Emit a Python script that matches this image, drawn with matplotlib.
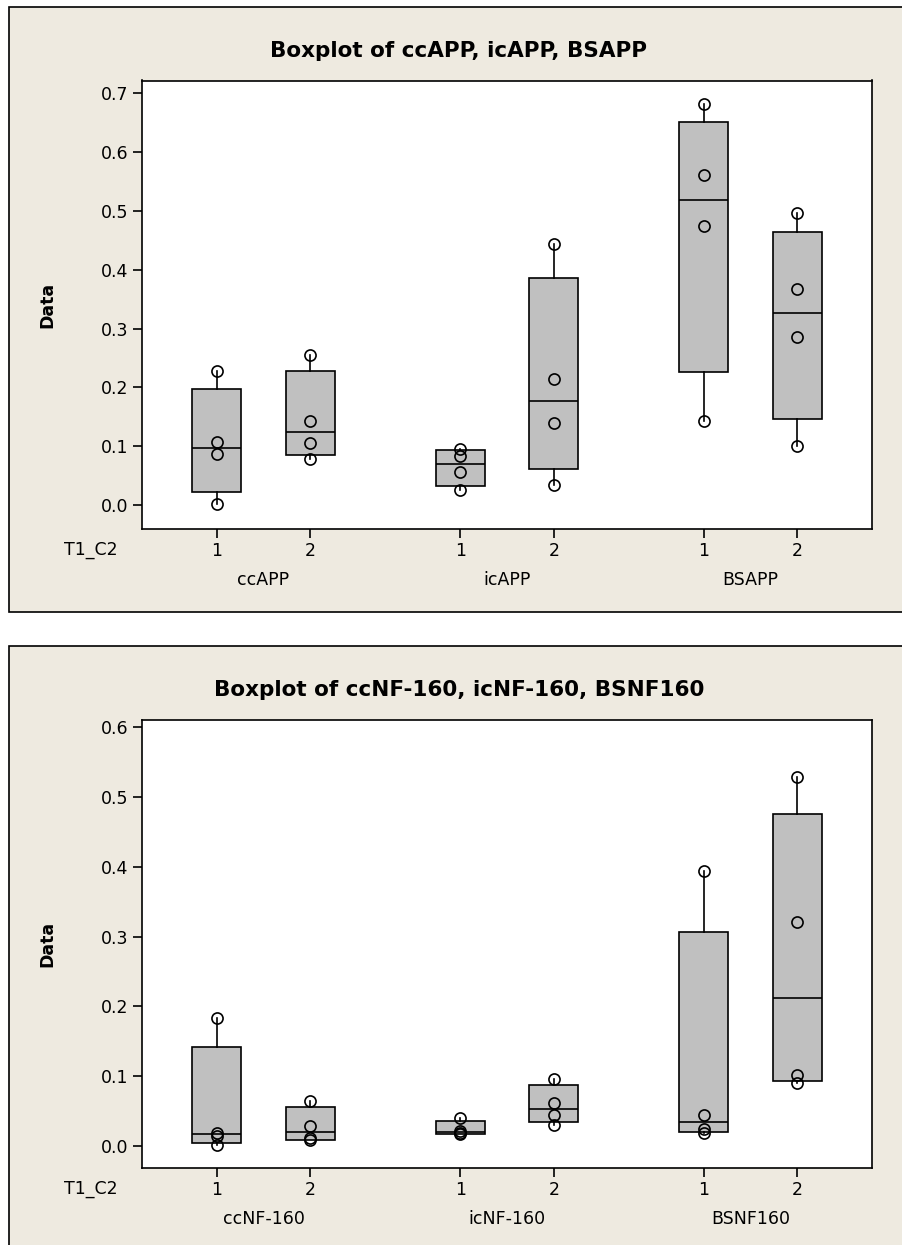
import numpy as np
import matplotlib.pyplot as plt
from matplotlib.patches import Rectangle

W, H = 903, 1245

groups_app = ['ccAPP', 'icAPP', 'BSAPP']
groups_nf = ['ccNF-160', 'icNF-160', 'BSNF160']
levels = ['1', '2']

ccAPP_1 = [0.001, 0.087, 0.107, 0.228]
ccAPP_2 = [0.079, 0.105, 0.143, 0.255]
icAPP_1 = [0.025, 0.057, 0.083, 0.096]
icAPP_2 = [0.034, 0.140, 0.215, 0.443]
BSAPP_1 = [0.143, 0.475, 0.561, 0.682]
BSAPP_2 = [0.100, 0.285, 0.368, 0.497]

ccNF_1 = [0.001, 0.014, 0.019, 0.183]
ccNF_2 = [0.008, 0.012, 0.028, 0.065]
icNF_1 = [0.017, 0.019, 0.022, 0.040]
icNF_2 = [0.030, 0.045, 0.061, 0.096]
BSNF_1 = [0.019, 0.024, 0.044, 0.394]
BSNF_2 = [0.090, 0.102, 0.321, 0.528]

positions = [0, 1, 2.6, 3.6, 5.2, 6.2]

BEIGE = '#EEEAE0'
BOXGREY = '#C0C0C0'
FS = 12.5

plt.rcParams['font.family'] = ['DejaVu Sans']


def px_rect(l, t, r, b):
    return [l / W, 1 - b / H, (r - l) / W, (b - t) / H]


def minitab_stats(vals):
    # Minitab quartiles = p*(n+1) positioning
    q1, med, q3 = np.percentile(vals, [25, 50, 75], method='weibull')
    iqr = q3 - q1
    lo = min(v for v in vals if v >= q1 - 1.5 * iqr)
    hi = max(v for v in vals if v <= q3 + 1.5 * iqr)
    return dict(med=med, q1=q1, q3=q3, whislo=lo, whishi=hi, fliers=[])


def panel(fig, top, bottom, title, data, groups, ylim, yticks):
    # beige frame
    fig.add_artist(Rectangle((9 / W, 1 - bottom / H), (920 - 9) / W, (bottom - top) / H,
                             transform=fig.transFigure, facecolor=BEIGE,
                             edgecolor='black', lw=1.2, zorder=0))
    ax_t, ax_b = top + 73.5, top + 522
    ax = fig.add_axes(px_rect(141.7, ax_t, 872.3, ax_b))
    ax.set_facecolor('white')

    stats = [minitab_stats(v) for v in data]
    ax.bxp(stats, positions=positions, widths=0.52, patch_artist=True,
           showcaps=False, showfliers=False,
           boxprops=dict(facecolor=BOXGREY, edgecolor='black', lw=1.2),
           medianprops=dict(color='black', lw=1.2),
           whiskerprops=dict(color='black', lw=1.2))
    for p, v in zip(positions, data):
        ax.plot([p] * len(v), v, 'o', mfc='none', mec='black', ms=8, mew=1.2, zorder=5)

    ax.set_xlim(-0.8, 7.0)
    ax.set_ylim(*ylim)
    ax.set_yticks(yticks, [f'{t:.1f}' for t in yticks])
    ax.set_xticks(positions, levels * 3)
    ax.tick_params(direction='out', length=6.5, width=1.2, labelsize=FS, pad=3,
                   colors='black')
    for s in ax.spines.values():
        s.set_linewidth(1.2)

    h = ax_b - ax_t
    for i, g in enumerate(groups):
        xm = (positions[2 * i] + positions[2 * i + 1]) / 2
        ax.text(xm, -(51 / h), g, transform=ax.get_xaxis_transform(),
                ha='center', va='center', fontsize=FS)

    fig.text(91 / W, 1 - (ax_b + 21) / H, 'T1_C2', ha='center', va='center', fontsize=FS)
    fig.text(47 / W, 1 - (ax_t + ax_b) / 2 / H, 'Data', rotation=90, ha='center',
             va='center', fontsize=FS, fontweight='bold')
    fig.text(459 / W, 1 - (top + 44) / H, title, ha='center', va='center',
             fontsize=15.5, fontweight='bold')
    return ax


fig = plt.figure(figsize=(W / 100, H / 100), dpi=100)
fig.patch.set_facecolor('white')

panel(fig, 7, 612, 'Boxplot of ccAPP, icAPP, BSAPP',
      [ccAPP_1, ccAPP_2, icAPP_1, icAPP_2, BSAPP_1, BSAPP_2],
      groups_app, (-0.0407, 0.7216), np.arange(0, 0.71, 0.1))

panel(fig, 646, 1260, 'Boxplot of ccNF-160, icNF-160, BSNF160',
      [ccNF_1, ccNF_2, icNF_1, icNF_2, BSNF_1, BSNF_2],
      groups_nf, (-0.0316, 0.611), np.arange(0, 0.61, 0.1))

fig.savefig('out.png', dpi=100)
